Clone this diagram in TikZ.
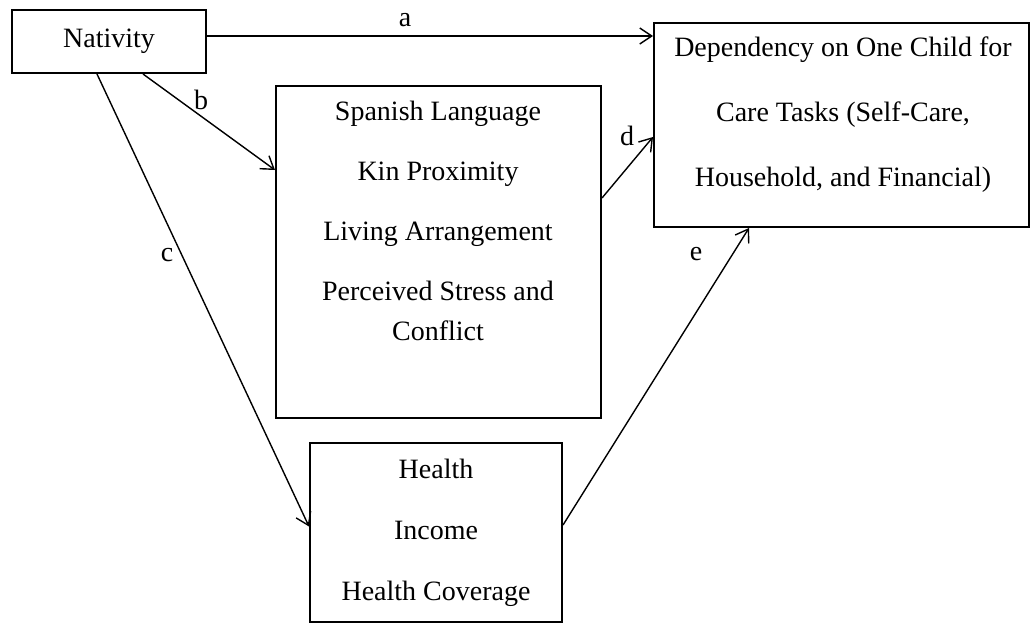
\documentclass[tikz,border=0pt]{standalone}
\usepackage{fontspec}
\setmainfont{Liberation Serif}
\usetikzlibrary{arrows.meta}
\begin{document}
\begin{tikzpicture}[
    x=0.5pt,
    y=-0.5pt,
    box/.style={draw=black, line width=1pt, inner sep=0pt},
    txt/.style={font=\fontsize{14}{20}\selectfont, align=center, inner sep=0pt},
    path/.style={->, >={Straight Barb[length=6pt, width=8pt]}, line width=0.7pt},
    lbl/.style={font=\fontsize{14}{20}\selectfont, inner sep=0pt}
  ]
    \useasboundingbox (0,0) rectangle (1031,627);
    \node[box, txt, minimum width=97pt, minimum height=31.5pt] (nativity) at (109,41.5) {Nativity};
    \node[box, minimum width=187.5pt, minimum height=102pt] (dependency) at (841.5,125) {};
    \node[box, minimum width=162.5pt, minimum height=166pt] (mediators) at (438.5,252) {};
    \node[box, minimum width=126pt, minimum height=89.5pt] (resources) at (436,532.5) {};
    \node[txt, anchor=north] (dependencytext) at (843,36) {Dependency on One Child for\\[12.5pt]Care Tasks (Self-Care,\\[12.5pt]Household, and Financial)};
    \node[txt, anchor=north] (mediatorstext) at (438,101) {Spanish Language\\[10pt]Kin Proximity\\[10pt]Living Arrangement\\[10pt]Perceived Stress and\\Conflict};
    \node[txt, anchor=north] (resourcestext) at (436,459) {Health\\[10.5pt]Income\\[10.5pt]Health Coverage};
    \coordinate (astart) at ([yshift=2.75pt]nativity.east);
    \draw[path] (astart) -- (astart -| dependency.west);
    \draw[path] ([xshift=17pt]nativity.south) -- ([yshift=41pt]mediators.west);
    \draw[path] ([xshift=-6pt]nativity.south) -- ([yshift=3pt]resources.west);
    \draw[path] ([yshift=27pt]mediators.east) -- ([yshift=-6pt]dependency.west);
    \draw[path] ([yshift=3.75pt]resources.east) -- ([xshift=-46.25pt]dependency.south);
    \node[lbl] (labela) at (405,20) {a};
    \node[lbl] (labelb) at (201,100) {b};
    \node[lbl] (labelc) at (167,255) {c};
    \node[lbl] (labeld) at (627,136) {d};
    \node[lbl] (labele) at (696,254) {e};
  \end{tikzpicture}
\end{document}
